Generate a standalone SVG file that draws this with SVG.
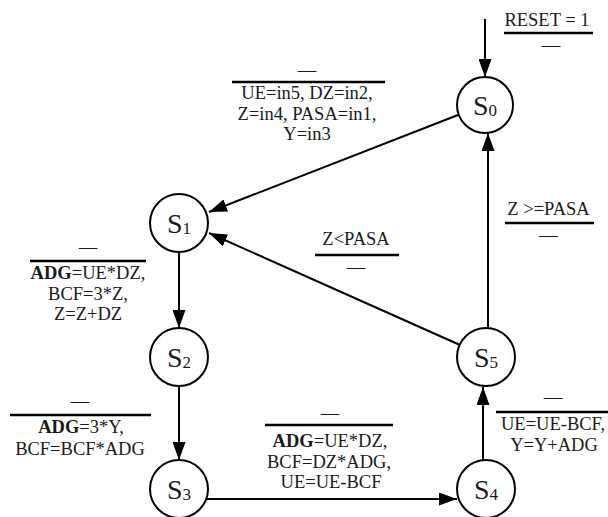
<svg xmlns="http://www.w3.org/2000/svg" width="608" height="517" viewBox="0 0 608 517">
<defs>
<marker id="ah" markerUnits="userSpaceOnUse" markerWidth="18" markerHeight="13" refX="18" refY="6.5" orient="auto">
<path d="M0,0 L18,6.5 L0,13 Z" fill="#000"/>
</marker>
<style>
.st{fill:#fff;stroke:#000;stroke-width:2}
.sl{font-family:"Liberation Serif","Times New Roman",serif;font-size:28px;fill:#1a1a1a}
.sub{font-size:17px}
.cn{fill:none;stroke:#000;stroke-width:2;marker-end:url(#ah)}
.lb{font-family:"Liberation Serif","Times New Roman",serif;font-size:18.5px;fill:#1a1a1a;text-anchor:middle}
.bar{stroke:#000;stroke-width:2.5}
.b{font-weight:bold}
</style>
</defs>
<rect width="608" height="517" fill="#fff"/>
<g id="connectors">
<line class="cn" x1="485" y1="19" x2="485" y2="77"/>
<line class="cn" x1="458" y1="115" x2="209" y2="212"/>
<line class="cn" x1="460" y1="345" x2="209" y2="233"/>
<line class="cn" x1="179" y1="252" x2="179" y2="328"/>
<line class="cn" x1="179" y1="386" x2="179" y2="460"/>
<line class="cn" x1="207" y1="499" x2="457" y2="499"/>
<line class="cn" x1="483" y1="460" x2="483" y2="387"/>
<line class="cn" x1="488" y1="328" x2="488" y2="133"/>
</g>
<g id="S0"><circle class="st" cx="485" cy="105" r="28"/><text class="sl" x="485" y="115" text-anchor="middle">S<tspan class="sub" dy="1">0</tspan></text></g>
<g id="S1"><circle class="st" cx="179" cy="223" r="29"/><text class="sl" x="179" y="233" text-anchor="middle">S<tspan class="sub" dy="1">1</tspan></text></g>
<g id="S2"><circle class="st" cx="179" cy="357" r="29"/><text class="sl" x="179" y="367" text-anchor="middle">S<tspan class="sub" dy="1">2</tspan></text></g>
<g id="S3"><circle class="st" cx="179" cy="489" r="29"/><text class="sl" x="179" y="499" text-anchor="middle">S<tspan class="sub" dy="1">3</tspan></text></g>
<g id="S4"><circle class="st" cx="486" cy="489" r="29"/><text class="sl" x="486" y="499" text-anchor="middle">S<tspan class="sub" dy="1">4</tspan></text></g>
<g id="S5"><circle class="st" cx="486" cy="357" r="29"/><text class="sl" x="486" y="367" text-anchor="middle">S<tspan class="sub" dy="1">5</tspan></text></g>
<g id="labels">
<text class="lb" x="547" y="26">RESET = 1</text>
<line class="bar" x1="504" y1="33" x2="593" y2="33"/>
<text class="lb" x="551" y="51">—</text>

<text class="lb" x="307" y="76">—</text>
<line class="bar" x1="232" y1="82" x2="385" y2="82"/>
<text class="lb" x="307" y="99">UE=in5, DZ=in2,</text>
<text class="lb" x="307" y="120">Z=in4, PASA=in1,</text>
<text class="lb" x="307" y="140">Y=in3</text>

<text class="lb" x="548.5" y="215">Z &gt;=PASA</text>
<line class="bar" x1="505" y1="223" x2="594" y2="223"/>
<text class="lb" x="548.5" y="241">—</text>

<text class="lb" x="356" y="245">Z&lt;PASA</text>
<line class="bar" x1="315" y1="255" x2="399" y2="255"/>
<text class="lb" x="356" y="273">—</text>

<text class="lb" x="88" y="253">—</text>
<line class="bar" x1="30" y1="261" x2="146" y2="261"/>
<text class="lb" x="88" y="279"><tspan class="b">ADG</tspan>=UE*DZ,</text>
<text class="lb" x="88" y="300">BCF=3*Z,</text>
<text class="lb" x="88" y="320">Z=Z+DZ</text>

<text class="lb" x="80" y="407">—</text>
<line class="bar" x1="10" y1="415" x2="151" y2="415"/>
<text class="lb" x="81" y="433"><tspan class="b">ADG</tspan>=3*Y,</text>
<text class="lb" x="80" y="455">BCF=BCF*ADG</text>

<text class="lb" x="330" y="419">—</text>
<line class="bar" x1="265" y1="425" x2="393" y2="425"/>
<text class="lb" x="330" y="447"><tspan class="b">ADG</tspan>=UE*DZ,</text>
<text class="lb" x="329" y="468">BCF=DZ*ADG,</text>
<text class="lb" x="331" y="488">UE=UE-BCF</text>

<text class="lb" x="553" y="403">—</text>
<line class="bar" x1="496" y1="412" x2="608" y2="412"/>
<text class="lb" x="553" y="430">UE=UE-BCF,</text>
<text class="lb" x="554" y="451">Y=Y+ADG</text>
</g>
</svg>
